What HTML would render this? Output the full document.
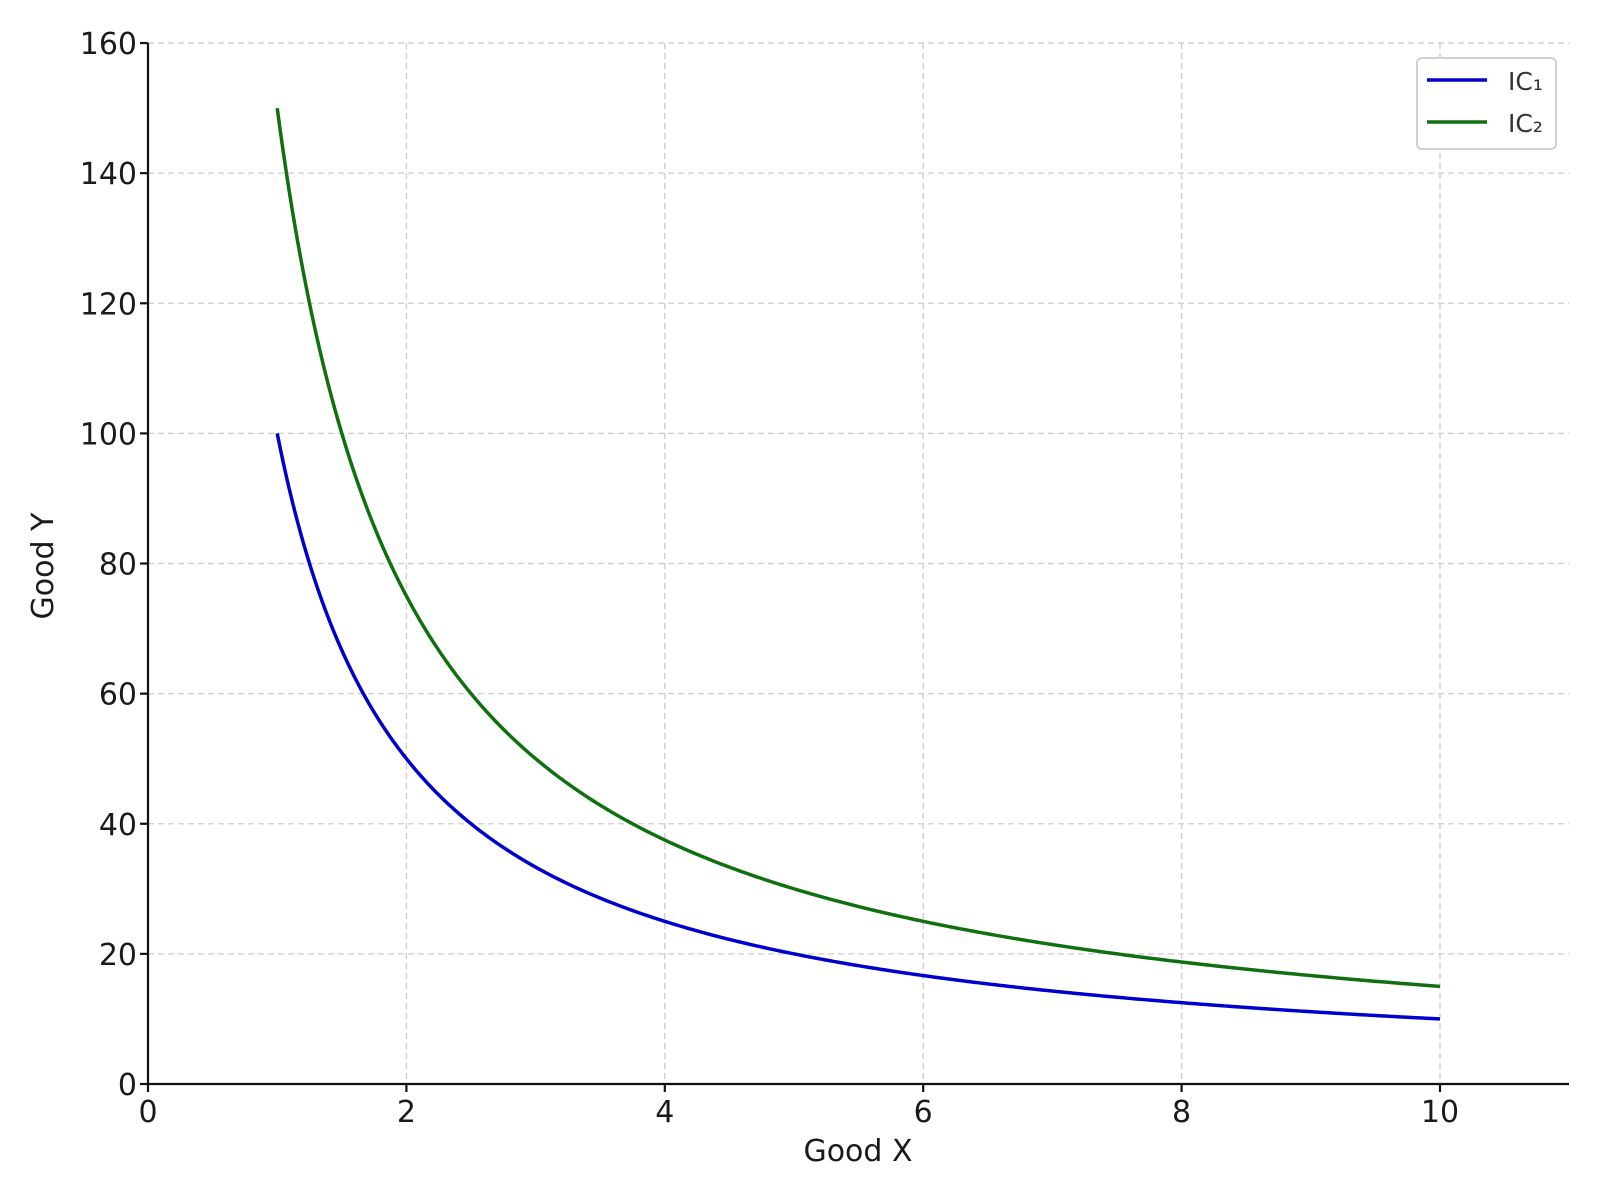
<!DOCTYPE html>
<html><head><meta charset="utf-8"><style>
html,body{margin:0;padding:0;background:#fff;}
svg{display:block;font-family:"DejaVu Sans","Liberation Sans",sans-serif;}
</style></head><body>
<svg id="s" width="1600" height="1200" viewBox="0 0 1600 1200" xmlns="http://www.w3.org/2000/svg">
<rect width="1600" height="1200" fill="#fff"/>
<g id="grid" stroke="#cccccc" stroke-width="1.3" stroke-dasharray="6,4"></g>
<g id="curves" fill="none" stroke-width="3.5" stroke-linejoin="round"></g>
<g id="axes" stroke="#111" stroke-width="2.2"></g>
<g id="labels" fill="#1a1a1a" font-size="30"></g>
<text x="858" y="1161" font-size="30" text-anchor="middle" fill="#1a1a1a">Good X</text>
<text transform="translate(53,566) rotate(-90)" font-size="30" text-anchor="middle" fill="#1a1a1a">Good Y</text>
<rect x="1417" y="58" width="139" height="91" rx="5" fill="#fff" stroke="#d0d0d0" stroke-width="2"/>
<line x1="1427" y1="80" x2="1487" y2="80" stroke="#0000cc" stroke-width="3.5"/>
<line x1="1427" y1="122" x2="1487" y2="122" stroke="#107010" stroke-width="3.5"/>
<text x="1508" y="90" font-size="25" fill="#333">IC₁</text>
<text x="1508" y="132" font-size="25" fill="#333">IC₂</text>
</svg>
<script>
(function(){
var NS="http://www.w3.org/2000/svg";
var x0=148,xs=129.2,y0=1084,ys=6.506,right=1569,ytop=43;
function X(v){return x0+v*xs}function Y(v){return y0-v*ys}
function el(p,t,a,txt){var e=document.createElementNS(NS,t);for(var k in a)e.setAttribute(k,a[k]);if(txt!==undefined)e.textContent=txt;document.getElementById(p).appendChild(e);}
for(var i=2;i<=10;i+=2)el("grid","line",{x1:X(i),y1:ytop,x2:X(i),y2:y0});
for(var j=20;j<=160;j+=20)el("grid","line",{x1:x0,y1:Y(j),x2:right,y2:Y(j)});
[[100,"#0000cc"],[150,"#107010"]].forEach(function(c){var p=[];for(var k=0;k<=400;k++){var x=1+9*k/400;p.push(X(x).toFixed(2)+","+Y(c[0]/x).toFixed(2));}el("curves","polyline",{points:p.join(" "),stroke:c[1]});});
el("axes","line",{x1:x0,y1:ytop,x2:x0,y2:y0+1});
el("axes","line",{x1:x0-1,y1:y0,x2:right,y2:y0});
for(var i=0;i<=10;i+=2){el("axes","line",{x1:X(i),y1:y0,x2:X(i),y2:y0+8});el("labels","text",{x:X(i),y:y0+38,"text-anchor":"middle"},String(i));}
for(var j=0;j<=160;j+=20){el("axes","line",{x1:x0-8,y1:Y(j),x2:x0,y2:Y(j)});el("labels","text",{x:x0-11,y:Y(j)+11,"text-anchor":"end"},String(j));}
})();
</script>
</body></html>
